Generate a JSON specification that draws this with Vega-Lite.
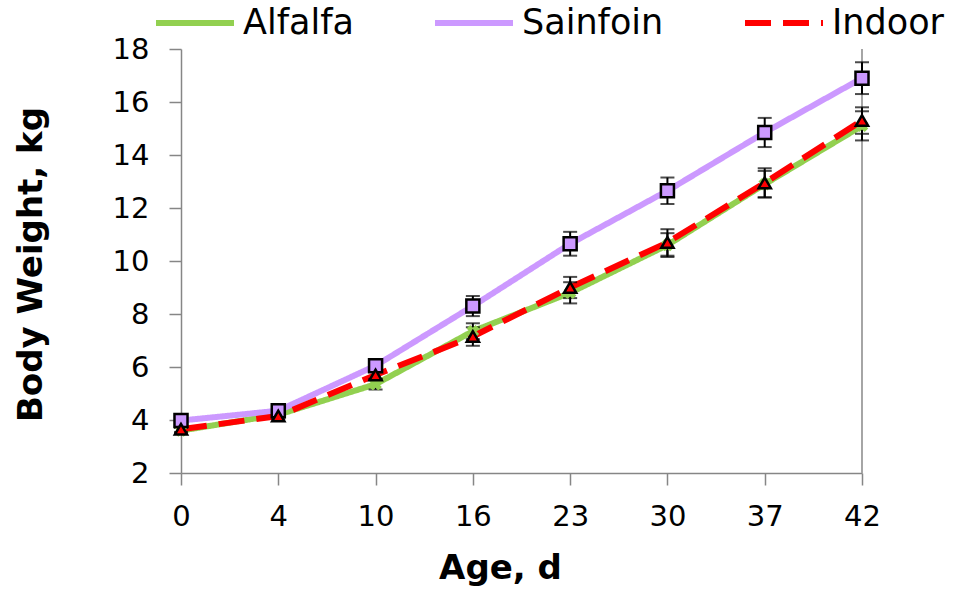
{
  "$schema": "https://vega.github.io/schema/vega-lite/v6.json",
  "width": 681,
  "height": 424,
  "autosize": {"type": "none"},
  "padding": {"left": 181, "top": 49, "right": 95, "bottom": 116},
  "background": "white",
  "config": {
    "font": "DejaVu Sans",
    "view": {"stroke": null},
    "axis": {
      "grid": false,
      "domainColor": "#868686",
      "domainWidth": 1.5,
      "tickColor": "#868686",
      "tickWidth": 1.5,
      "tickSize": 12,
      "labelFont": "DejaVu Sans",
      "labelFontSize": 29,
      "labelColor": "#000000",
      "titleFont": "DejaVu Sans",
      "titleFontSize": 34,
      "titleFontWeight": "bold",
      "titleColor": "#000000"
    }
  },
  "data": {
    "values": [
      {"series": "Alfalfa", "age": 0, "bw": 3.6, "lo": 3.5, "hi": 3.7},
      {"series": "Alfalfa", "age": 4, "bw": 4.2, "lo": 4.1, "hi": 4.3},
      {"series": "Alfalfa", "age": 10, "bw": 5.35, "lo": 5.15, "hi": 5.55},
      {"series": "Alfalfa", "age": 16, "bw": 7.35, "lo": 7.05, "hi": 7.65},
      {"series": "Alfalfa", "age": 23, "bw": 8.8, "lo": 8.4, "hi": 9.2},
      {"series": "Alfalfa", "age": 30, "bw": 10.6, "lo": 10.15, "hi": 11.05},
      {"series": "Alfalfa", "age": 37, "bw": 12.9, "lo": 12.4, "hi": 13.4},
      {"series": "Alfalfa", "age": 42, "bw": 15.1, "lo": 14.55, "hi": 15.65},
      {"series": "Sainfoin", "age": 0, "bw": 3.98, "lo": 3.88, "hi": 4.08},
      {"series": "Sainfoin", "age": 4, "bw": 4.35, "lo": 4.23, "hi": 4.47},
      {"series": "Sainfoin", "age": 10, "bw": 6.05, "lo": 5.9, "hi": 6.2},
      {"series": "Sainfoin", "age": 16, "bw": 8.3, "lo": 7.92, "hi": 8.68},
      {"series": "Sainfoin", "age": 23, "bw": 10.65, "lo": 10.2, "hi": 11.1},
      {"series": "Sainfoin", "age": 30, "bw": 12.65, "lo": 12.15, "hi": 13.15},
      {"series": "Sainfoin", "age": 37, "bw": 14.85, "lo": 14.3, "hi": 15.4},
      {"series": "Sainfoin", "age": 42, "bw": 16.9, "lo": 16.3, "hi": 17.5},
      {"series": "Indoor", "age": 0, "bw": 3.65, "lo": 3.55, "hi": 3.75},
      {"series": "Indoor", "age": 4, "bw": 4.15, "lo": 4.03, "hi": 4.27},
      {"series": "Indoor", "age": 10, "bw": 5.7, "lo": 5.55, "hi": 5.85},
      {"series": "Indoor", "age": 16, "bw": 7.15, "lo": 6.8, "hi": 7.5},
      {"series": "Indoor", "age": 23, "bw": 9.0, "lo": 8.6, "hi": 9.4},
      {"series": "Indoor", "age": 30, "bw": 10.7, "lo": 10.2, "hi": 11.2},
      {"series": "Indoor", "age": 37, "bw": 12.95, "lo": 12.4, "hi": 13.5},
      {"series": "Indoor", "age": 42, "bw": 15.3, "lo": 14.8, "hi": 15.8}
    ]
  },
  "encoding": {
    "x": {
      "field": "age",
      "type": "ordinal",
      "sort": "ascending",
      "scale": {"type": "point", "padding": 0},
      "axis": {
        "title": "Age, d",
        "labelAngle": 0,
        "labelPadding": 17,
        "titleX": 319,
        "titleY": 105,
        "titleBaseline": "alphabetic",
        "titleAlign": "center"
      }
    }
  },
  "layer": [
    {
      "mark": {"type": "rule", "color": "#A6A6A6", "strokeWidth": 1.2},
      "encoding": {
        "x": {"datum": 42},
        "y": {"datum": 2},
        "y2": {"datum": 18}
      }
    },
    {
      "mark": {"type": "line", "strokeWidth": 6, "strokeCap": "butt"},
      "encoding": {
        "y": {
          "field": "bw",
          "type": "quantitative",
          "scale": {"domain": [2, 18], "nice": false, "zero": false},
          "axis": {
            "title": "Body Weight, kg",
            "values": [2, 4, 6, 8, 10, 12, 14, 16, 18],
            "labelPadding": 20,
            "titleX": -140,
            "titleY": 215,
            "titleAngle": -90,
            "titleBaseline": "alphabetic",
            "titleAlign": "center"
          }
        },
        "color": {
          "field": "series",
          "type": "nominal",
          "sort": ["Alfalfa", "Sainfoin", "Indoor"],
          "scale": {"domain": ["Alfalfa", "Sainfoin", "Indoor"], "range": ["#92D050", "#CC99FF", "#FF0000"]},
          "legend": {
            "title": null,
            "orient": "none",
            "direction": "horizontal",
            "legendX": -28,
            "legendY": -68,
            "symbolType": "stroke",
            "symbolSize": 6084,
            "symbolStrokeWidth": 6,
            "labelFontSize": 35,
            "labelFont": "DejaVu Sans",
            "labelColor": "#000000",
            "labelOffset": 6,
            "columnPadding": 69
          }
        },
        "strokeDash": {
          "field": "series",
          "type": "nominal",
          "scale": {"domain": ["Alfalfa", "Sainfoin", "Indoor"], "range": [[1, 0], [1, 0], [26, 12]]},
          "legend": null
        },
        "order": {"field": "age", "type": "quantitative"}
      }
    },
    {
      "mark": {"type": "rule", "color": "#000000", "strokeWidth": 2},
      "encoding": {
        "y": {"field": "lo", "type": "quantitative"},
        "y2": {"field": "hi"},
        "detail": {"field": "series"}
      }
    },
    {
      "mark": {"type": "tick", "color": "#000000", "thickness": 2, "size": 14},
      "encoding": {
        "y": {"field": "lo", "type": "quantitative"},
        "detail": {"field": "series"}
      }
    },
    {
      "mark": {"type": "tick", "color": "#000000", "thickness": 2, "size": 14},
      "encoding": {
        "y": {"field": "hi", "type": "quantitative"},
        "detail": {"field": "series"}
      }
    },
    {
      "transform": [{"filter": "datum.series === 'Alfalfa'"}],
      "mark": {"type": "point", "shape": "cross", "angle": 45, "filled": true, "color": "#92D050", "size": 160, "opacity": 1},
      "encoding": {
        "y": {"field": "bw", "type": "quantitative"}
      }
    },
    {
      "transform": [{"filter": "datum.series === 'Sainfoin'"}],
      "mark": {"type": "point", "shape": "square", "filled": true, "fill": "#CC99FF", "stroke": "#000000", "strokeWidth": 2.5, "size": 170, "opacity": 1},
      "encoding": {
        "y": {"field": "bw", "type": "quantitative"}
      }
    },
    {
      "transform": [{"filter": "datum.series === 'Indoor'"}],
      "mark": {"type": "point", "shape": "triangle-up", "filled": true, "fill": "#FF0000", "stroke": "#000000", "strokeWidth": 2.5, "size": 150, "opacity": 1},
      "encoding": {
        "y": {"field": "bw", "type": "quantitative"}
      }
    }
  ]
}
